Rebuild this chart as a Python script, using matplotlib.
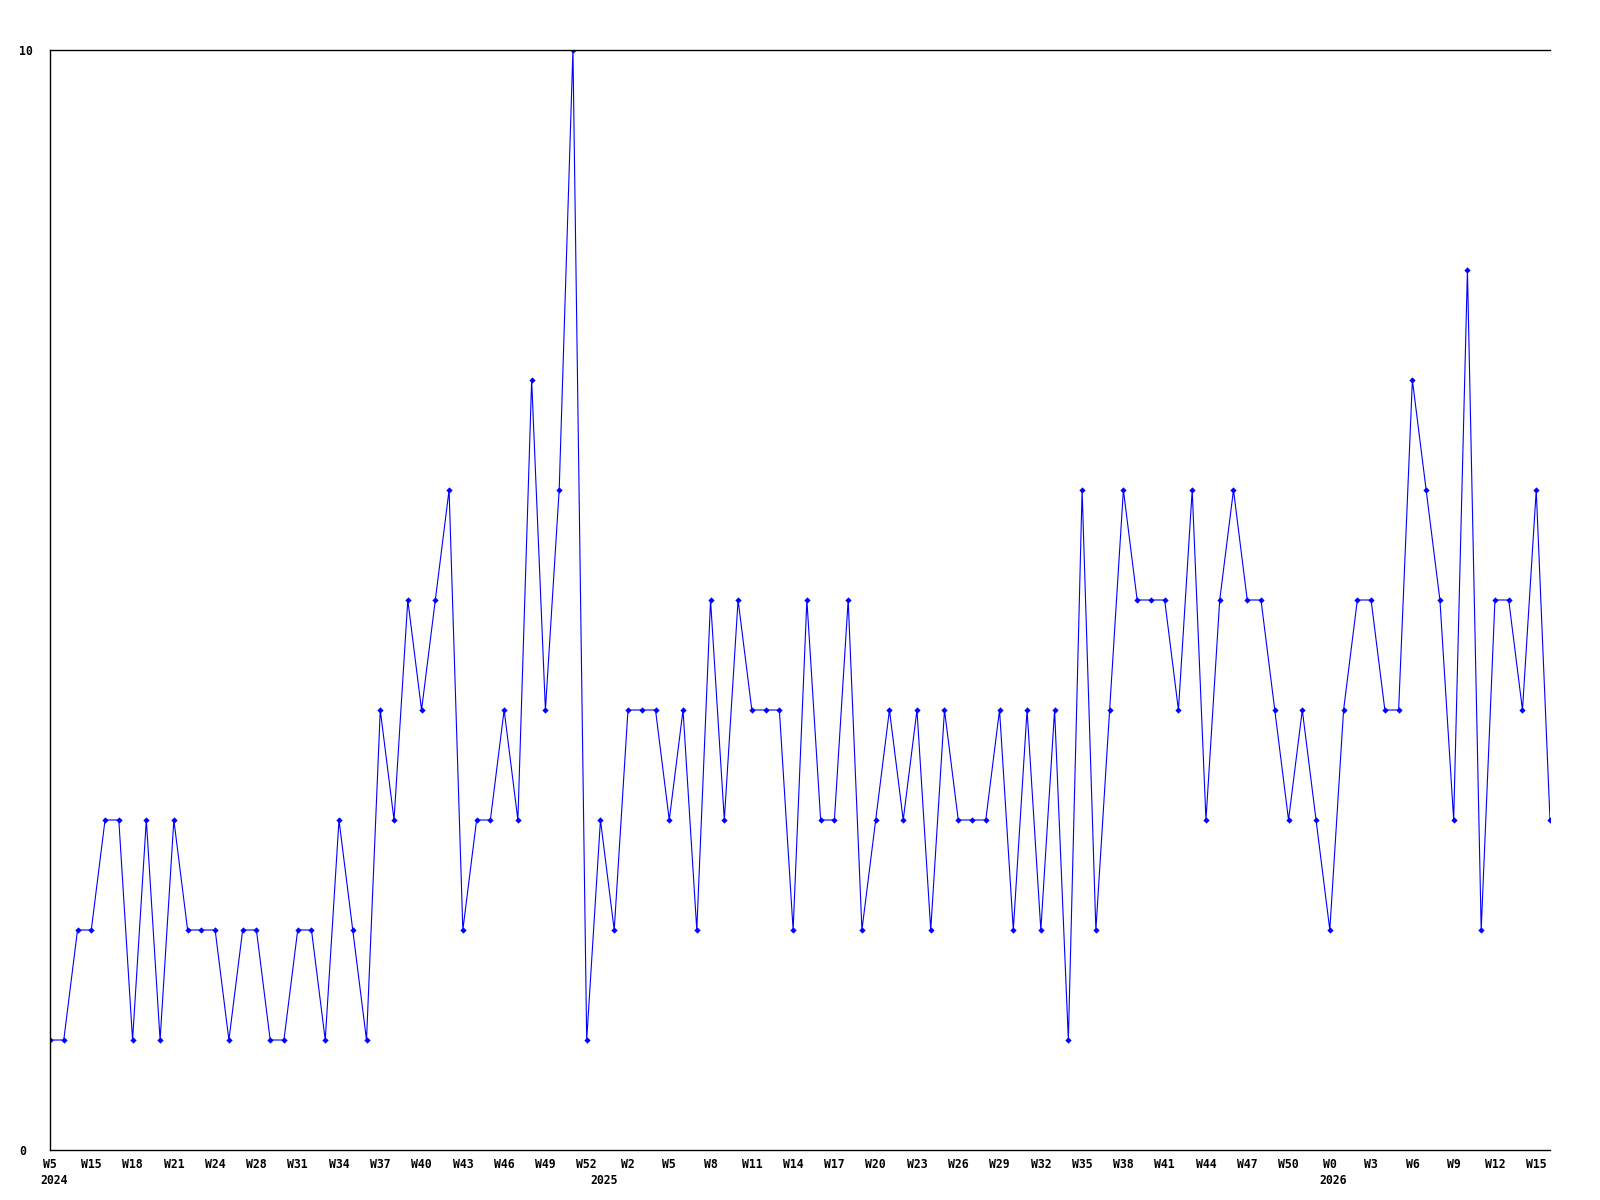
import matplotlib
matplotlib.use("Agg")
import matplotlib.pyplot as plt
import matplotlib.transforms as mtransforms

# ---- data ----
values = [1, 1, 2, 2, 3, 3, 1, 3, 1, 3,
          2, 2, 2, 1, 2, 2, 1, 1, 2, 2,
          1, 3, 2, 1, 4, 3, 5, 4, 5, 6,
          2, 3, 3, 4, 3, 7, 4, 6, 10, 1,
          3, 2, 4, 4, 4, 3, 4, 2, 5, 3,
          5, 4, 4, 4, 2, 5, 3, 3, 5, 2,
          3, 4, 3, 4, 2, 4, 3, 3, 3, 4,
          2, 4, 2, 4, 1, 6, 2, 4, 6, 5,
          5, 5, 4, 6, 3, 5, 6, 5, 5, 4,
          3, 4, 3, 2, 4, 5, 5, 4, 4, 7,
          6, 5, 3, 8, 2, 5, 5, 4, 6, 3]

week_labels = ["W5", "W15", "W18", "W21", "W24", "W28", "W31", "W34", "W37",
               "W40", "W43", "W46", "W49", "W52", "W2", "W5", "W8", "W11",
               "W14", "W17", "W20", "W23", "W26", "W29", "W32", "W35", "W38",
               "W41", "W44", "W47", "W50", "W0", "W3", "W6", "W9", "W12", "W15"]
label_step = 3

# first data point (index) of each year
year_names = ["2024", "2025", "2026"]
year_index = [0, 40, 93]

y_ticks = [0, 10]

FONT = dict(fontfamily="DejaVu Sans Mono", fontweight="bold", fontsize=8.3)

# ---- figure ----
fig = plt.figure(figsize=(16, 12), dpi=100)
ax = fig.add_axes([50 / 1600, 50 / 1200, 1500 / 1600, 1100 / 1200])

x = list(range(len(values)))
ax.plot(x, values, color="#0000ff", linewidth=0.8, marker="D",
        markersize=3.2, markerfacecolor="#0000ff", markeredgewidth=0)

ax.set_xlim(0, len(values) - 1)
ax.set_ylim(0, 10)

tick_pos = [i * label_step for i in range(len(week_labels))]
ax.set_xticks(tick_pos)
ax.set_xticklabels(week_labels, **FONT)
ax.tick_params(axis="x", length=0, pad=6)

# year labels below the week labels
base = mtransforms.blended_transform_factory(ax.transData, ax.transAxes)
off = mtransforms.ScaledTranslation(-10 / 100, -24 / 100, fig.dpi_scale_trans)
for name, idx in zip(year_names, year_index):
    ax.text(idx, 0, name, transform=base + off, ha="left", va="top", **FONT)

ax.set_yticks(y_ticks)
ax.set_yticklabels([str(v) for v in y_ticks], ha="left", **FONT)
ax.tick_params(axis="y", length=0, pad=22)

for side in ["left", "top", "bottom"]:
    ax.spines[side].set_color("black")
    ax.spines[side].set_linewidth(1.0)
ax.spines["right"].set_visible(False)

fig.savefig("out.png", dpi=100, facecolor="white")
